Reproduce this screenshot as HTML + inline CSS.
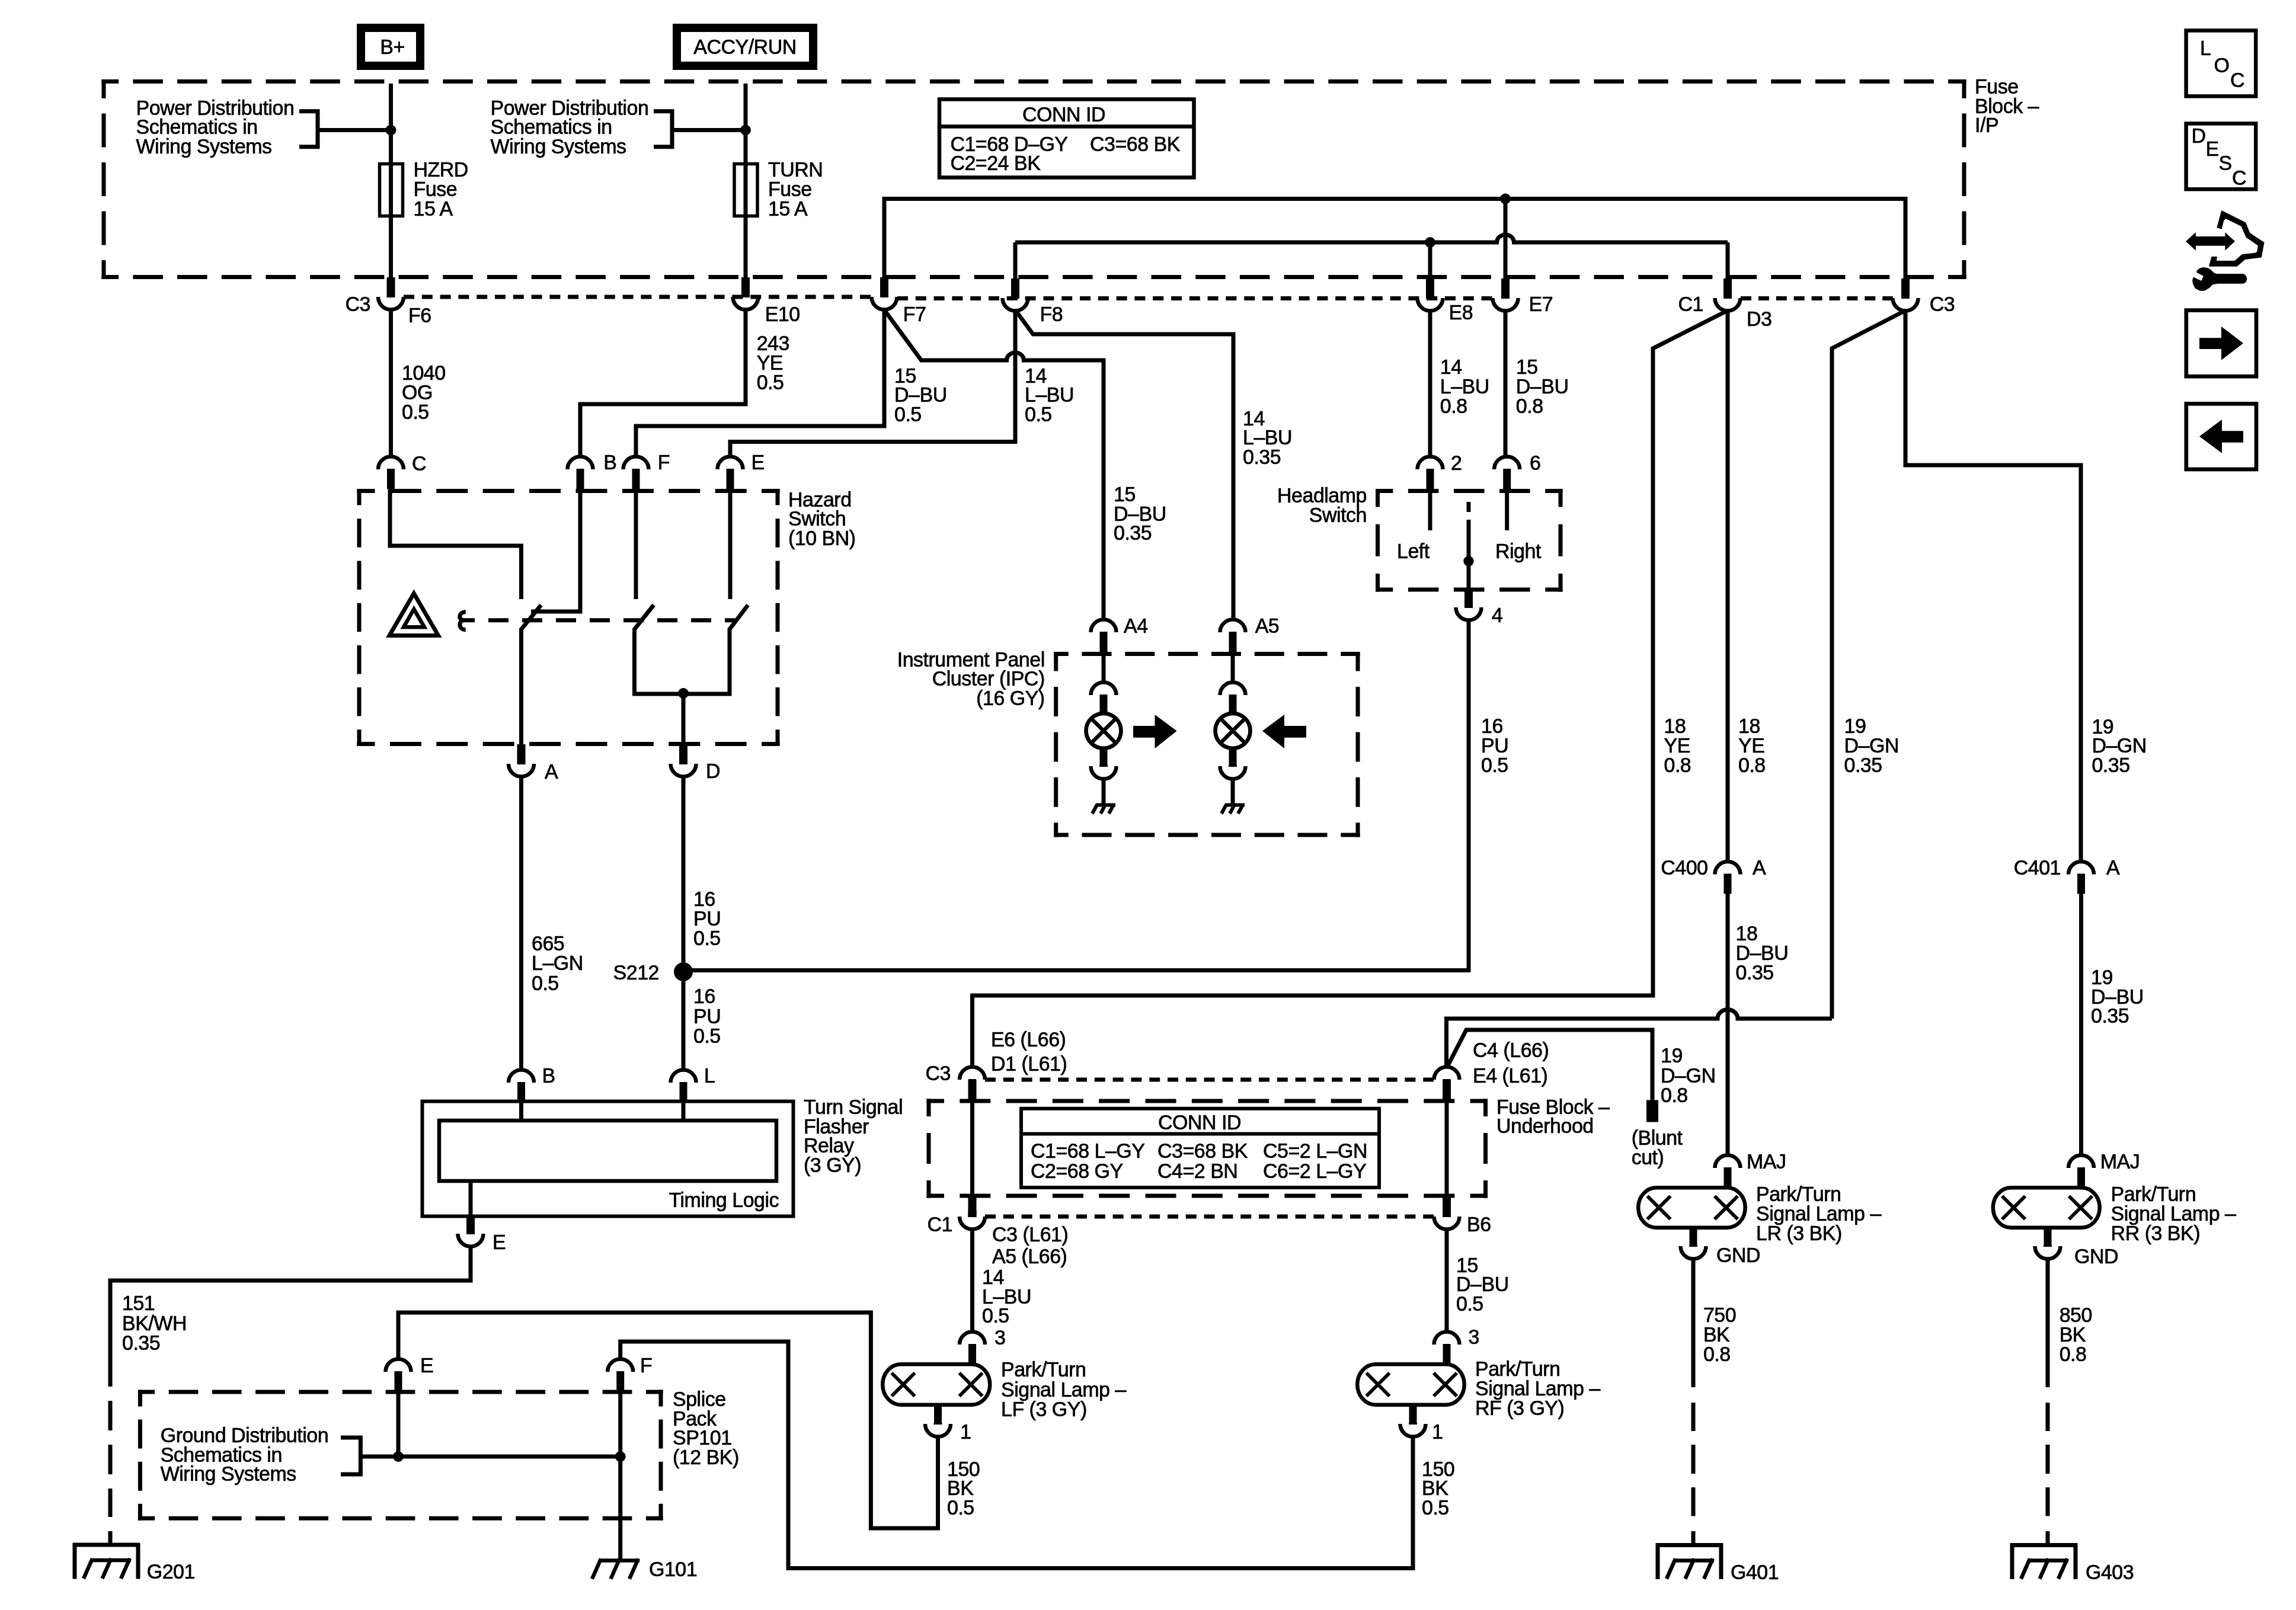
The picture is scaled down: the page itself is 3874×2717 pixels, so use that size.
<!DOCTYPE html>
<html><head><meta charset="utf-8"><style>
html,body{margin:0;padding:0;background:#fff;}
svg{display:block;will-change:transform;}
text{font-family:"Liberation Sans",sans-serif;font-size:34px;letter-spacing:-0.5px;fill:#000;stroke:#000;stroke-width:0.7px;}
</style></head><body>
<svg width="3874" height="2717" viewBox="0 0 3874 2717">
<rect width="3874" height="2717" fill="#fff"/>
<g stroke="#000" fill="none" stroke-linejoin="miter" stroke-miterlimit="10">
<rect x="609" y="47" width="100" height="64" stroke-width="14" fill="none"/>
<text transform="matrix(1 0 0 1.035 662 90.5)" text-anchor="middle">B+</text>
<rect x="1142" y="47" width="230" height="64" stroke-width="14" fill="none"/>
<text transform="matrix(1 0 0 1.035 1257 90.5)" text-anchor="middle">ACCY/RUN</text>
<path d="M175 137.4 L3314 137.4" stroke-width="7" stroke-linecap="square" stroke-dasharray="43.5 31.2" stroke-dashoffset="21.8"/>
<path d="M175 467.4 L3314 467.4" stroke-width="7" stroke-linecap="square" stroke-dasharray="43.5 31.2" stroke-dashoffset="21.8"/>
<path d="M175 137.4 L175 467.4" stroke-width="7" stroke-linecap="square" stroke-dasharray="50 32.5" stroke-dashoffset="25"/>
<path d="M3314 137.4 L3314 467.4" stroke-width="7" stroke-linecap="square" stroke-dasharray="50 32.5" stroke-dashoffset="25"/>
<text transform="matrix(1 0 0 1.035 3332 158)">Fuse</text>
<text transform="matrix(1 0 0 1.035 3332 190.5)">Block –</text>
<text transform="matrix(1 0 0 1.035 3332 223)">I/P</text>
<path d="M659.5 141 L659.5 470" stroke-width="7" fill="none"/>
<rect x="640.5" y="276.5" width="39" height="88" stroke-width="5.5" fill="none"/>
<circle cx="659.5" cy="219.5" r="9" fill="#000" stroke="none"/>
<path d="M505 187.8 L536 187.8 L536 247.8 L505 247.8" stroke-width="7" fill="none"/>
<path d="M536 219.5 L659.5 219.5" stroke-width="7" fill="none"/>
<text transform="matrix(1 0 0 1.035 229.5 194)">Power Distribution</text>
<text transform="matrix(1 0 0 1.035 229.5 226.3)">Schematics in</text>
<text transform="matrix(1 0 0 1.035 229.5 258.5)">Wiring Systems</text>
<text transform="matrix(1 0 0 1.035 697.5 298.3)">HZRD</text>
<text transform="matrix(1 0 0 1.035 697.5 331.1)">Fuse</text>
<text transform="matrix(1 0 0 1.035 697.5 363.9)">15 A</text>
<path d="M1258 141 L1258 470" stroke-width="7" fill="none"/>
<rect x="1239" y="276.5" width="39" height="88" stroke-width="5.5" fill="none"/>
<circle cx="1258" cy="219.5" r="9" fill="#000" stroke="none"/>
<path d="M1103 187.8 L1134 187.8 L1134 247.8 L1103 247.8" stroke-width="7" fill="none"/>
<path d="M1134 219.5 L1258 219.5" stroke-width="7" fill="none"/>
<text transform="matrix(1 0 0 1.035 827.5 194)">Power Distribution</text>
<text transform="matrix(1 0 0 1.035 827.5 226.3)">Schematics in</text>
<text transform="matrix(1 0 0 1.035 827.5 258.5)">Wiring Systems</text>
<text transform="matrix(1 0 0 1.035 1296 298.3)">TURN</text>
<text transform="matrix(1 0 0 1.035 1296 331.1)">Fuse</text>
<text transform="matrix(1 0 0 1.035 1296 363.9)">15 A</text>
<rect x="1585" y="167.5" width="429.5" height="132" stroke-width="6.5" fill="none"/>
<path d="M1585 213.5 L2014.5 213.5" stroke-width="6.5" fill="none"/>
<text transform="matrix(1 0 0 1.035 1795 205.2)" text-anchor="middle">CONN ID</text>
<text transform="matrix(1 0 0 1.035 1603.4 254.5)">C1=68 D–GY</text>
<text transform="matrix(1 0 0 1.035 1603.4 286.5)">C2=24 BK</text>
<text transform="matrix(1 0 0 1.035 1839 254.5)">C3=68 BK</text>
<path d="M1492 470 L1492 335.5 L3215 335.5 L3215 470" stroke-width="7" fill="none"/>
<circle cx="2540" cy="335.5" r="9" fill="#000" stroke="none"/>
<path d="M1713 409 L2525.5 409 A14.5 13.1 0 0 1 2554.5 409 L2915 409 M1713 470 L1713 409 M2915 409 L2915 470" stroke-width="7" fill="none" />
<circle cx="2413" cy="409" r="9" fill="#000" stroke="none"/>
<path d="M2413 409 L2413 470" stroke-width="7" fill="none"/>
<path d="M2540 335.5 L2540 470" stroke-width="7" fill="none"/>
<path d="M681 501 L1470 501" stroke-width="7" stroke-dasharray="18 12.8"/>
<path d="M1514 503.5 L2519 503.5" stroke-width="7" stroke-dasharray="18 12.8"/>
<path d="M2937 503.5 L3194 503.5" stroke-width="7" stroke-dasharray="18 11.9"/>
<rect x="652.5" y="468" width="14" height="34" stroke="none" fill="#000"/>
<path d="M638 501 A21.5 21.5 0 0 0 681 501" stroke-width="6.5" fill="none" />
<rect x="1251" y="468" width="14" height="34" stroke="none" fill="#000"/>
<path d="M1236.5 501 A21.5 21.5 0 0 0 1279.5 501" stroke-width="6.5" fill="none" />
<rect x="1485" y="468" width="14" height="34" stroke="none" fill="#000"/>
<path d="M1470.5 501 A21.5 21.5 0 0 0 1513.5 501" stroke-width="6.5" fill="none" />
<rect x="1706" y="470" width="14" height="34" stroke="none" fill="#000"/>
<path d="M1691.5 503 A21.5 21.5 0 0 0 1734.5 503" stroke-width="6.5" fill="none" />
<rect x="2406" y="470" width="14" height="34" stroke="none" fill="#000"/>
<path d="M2391.5 503 A21.5 21.5 0 0 0 2434.5 503" stroke-width="6.5" fill="none" />
<rect x="2533" y="470" width="14" height="34" stroke="none" fill="#000"/>
<path d="M2518.5 503 A21.5 21.5 0 0 0 2561.5 503" stroke-width="6.5" fill="none" />
<rect x="2908" y="470" width="14" height="34" stroke="none" fill="#000"/>
<path d="M2893.5 503 A21.5 21.5 0 0 0 2936.5 503" stroke-width="6.5" fill="none" />
<rect x="3208" y="470" width="14" height="34" stroke="none" fill="#000"/>
<path d="M3193.5 503 A21.5 21.5 0 0 0 3236.5 503" stroke-width="6.5" fill="none" />
<text transform="matrix(1 0 0 1.035 625 525.1)" text-anchor="end">C3</text>
<text transform="matrix(1 0 0 1.035 689 543.5)">F6</text>
<text transform="matrix(1 0 0 1.035 1290.7 541.9)">E10</text>
<text transform="matrix(1 0 0 1.035 1523.7 541.5)">F7</text>
<text transform="matrix(1 0 0 1.035 1754.5 541.5)">F8</text>
<text transform="matrix(1 0 0 1.035 2444.6 539.3)">E8</text>
<text transform="matrix(1 0 0 1.035 2579.6 525.3)">E7</text>
<text transform="matrix(1 0 0 1.035 2873.9 524.6)" text-anchor="end">C1</text>
<text transform="matrix(1 0 0 1.035 2947 550.2)">D3</text>
<text transform="matrix(1 0 0 1.035 3255.8 524.5)">C3</text>
<path d="M659.5 522 L659.5 771" stroke-width="7" fill="none"/>
<text transform="matrix(1 0 0 1.035 678 640.7)">1040</text>
<text transform="matrix(1 0 0 1.035 678 673.5)">OG</text>
<text transform="matrix(1 0 0 1.035 678 706.5)">0.5</text>
<path d="M1258 522 L1258 682 L979 682 L979 771" stroke-width="7" fill="none"/>
<text transform="matrix(1 0 0 1.035 1276.7 590.5)">243</text>
<text transform="matrix(1 0 0 1.035 1276.7 623.5)">YE</text>
<text transform="matrix(1 0 0 1.035 1276.7 656.5)">0.5</text>
<path d="M1492 522 L1492 719 L1073 719 L1073 771" stroke-width="7" fill="none"/>
<path d="M1492 523 L1554.5 608  L1698.5 608 A14.5 13.1 0 0 1 1727.5 608 L1862 608 L1862 1046" stroke-width="7" fill="none" />
<path d="M1713 522 L1713 745.5 L1232 745.5 L1232 771" stroke-width="7" fill="none"/>
<path d="M1713 523 L1743 564 L2081 564 L2081 1046" stroke-width="7" fill="none"/>
<text transform="matrix(1 0 0 1.035 1509 645.5)">15</text>
<text transform="matrix(1 0 0 1.035 1509 678.1)">D–BU</text>
<text transform="matrix(1 0 0 1.035 1509 710.5)">0.5</text>
<text transform="matrix(1 0 0 1.035 1729 645.5)">14</text>
<text transform="matrix(1 0 0 1.035 1729 678.1)">L–BU</text>
<text transform="matrix(1 0 0 1.035 1729 710.5)">0.5</text>
<text transform="matrix(1 0 0 1.035 2097 717.5)">14</text>
<text transform="matrix(1 0 0 1.035 2097 750)">L–BU</text>
<text transform="matrix(1 0 0 1.035 2097 782.5)">0.35</text>
<text transform="matrix(1 0 0 1.035 1879 845.5)">15</text>
<text transform="matrix(1 0 0 1.035 1879 878.5)">D–BU</text>
<text transform="matrix(1 0 0 1.035 1879 911.1)">0.35</text>
<path d="M2413 522 L2413 771" stroke-width="7" fill="none"/>
<text transform="matrix(1 0 0 1.035 2429.8 631)">14</text>
<text transform="matrix(1 0 0 1.035 2429.8 664)">L–BU</text>
<text transform="matrix(1 0 0 1.035 2429.8 696.5)">0.8</text>
<path d="M2540 522 L2540 771" stroke-width="7" fill="none"/>
<text transform="matrix(1 0 0 1.035 2557.8 631)">15</text>
<text transform="matrix(1 0 0 1.035 2557.8 664)">D–BU</text>
<text transform="matrix(1 0 0 1.035 2557.8 696.5)">0.8</text>
<path d="M2915 524 L2789 588 L2789 1680 L1640.5 1680 L1640.5 1801" stroke-width="7" fill="none"/>
<path d="M2915 522 L2915 1453" stroke-width="7" fill="none"/>
<path d="M3215 524 L3091 588 L3091 1719" stroke-width="7" fill="none"/>
<path d="M3091 1719 L2932 1719 A17 15.3 0 0 0 2898 1719 L2440.5 1719 L2440.5 1801" stroke-width="7" fill="none" />
<path d="M3215 522 L3215 785 L3511 785 L3511 1453" stroke-width="7" fill="none"/>
<text transform="matrix(1 0 0 1.035 2807.5 1237)">18</text>
<text transform="matrix(1 0 0 1.035 2807.5 1269.5)">YE</text>
<text transform="matrix(1 0 0 1.035 2807.5 1302.5)">0.8</text>
<text transform="matrix(1 0 0 1.035 2933 1237)">18</text>
<text transform="matrix(1 0 0 1.035 2933 1269.5)">YE</text>
<text transform="matrix(1 0 0 1.035 2933 1302.5)">0.8</text>
<text transform="matrix(1 0 0 1.035 3111.5 1237)">19</text>
<text transform="matrix(1 0 0 1.035 3111.5 1269.5)">D–GN</text>
<text transform="matrix(1 0 0 1.035 3111.5 1302.5)">0.35</text>
<text transform="matrix(1 0 0 1.035 3529.4 1238.1)">19</text>
<text transform="matrix(1 0 0 1.035 3529.4 1269.8)">D–GN</text>
<text transform="matrix(1 0 0 1.035 3529.4 1303.3)">0.35</text>
<rect x="653" y="791" width="13" height="34" stroke="none" fill="#000"/>
<path d="M638 792 A21.5 21.5 0 0 1 681 792" stroke-width="6.5" fill="none" />
<rect x="972.5" y="791" width="13" height="34" stroke="none" fill="#000"/>
<path d="M957.5 792 A21.5 21.5 0 0 1 1000.5 792" stroke-width="6.5" fill="none" />
<rect x="1066.5" y="791" width="13" height="34" stroke="none" fill="#000"/>
<path d="M1051.5 792 A21.5 21.5 0 0 1 1094.5 792" stroke-width="6.5" fill="none" />
<rect x="1225.5" y="791" width="13" height="34" stroke="none" fill="#000"/>
<path d="M1210.5 792 A21.5 21.5 0 0 1 1253.5 792" stroke-width="6.5" fill="none" />
<text transform="matrix(1 0 0 1.035 695 793.5)">C</text>
<text transform="matrix(1 0 0 1.035 1018.3 792)">B</text>
<text transform="matrix(1 0 0 1.035 1109.8 792)">F</text>
<text transform="matrix(1 0 0 1.035 1267.4 792)">E</text>
<path d="M606 828.4 L1312 828.4" stroke-width="7" stroke-linecap="square" stroke-dasharray="46 32.4" stroke-dashoffset="23"/>
<path d="M606 1255.4 L1312 1255.4" stroke-width="7" stroke-linecap="square" stroke-dasharray="46 32.4" stroke-dashoffset="23"/>
<path d="M606 828.4 L606 1255.4" stroke-width="7" stroke-linecap="square" stroke-dasharray="41.5 29.7" stroke-dashoffset="20.8"/>
<path d="M1312 828.4 L1312 1255.4" stroke-width="7" stroke-linecap="square" stroke-dasharray="41.5 29.7" stroke-dashoffset="20.8"/>
<text transform="matrix(1 0 0 1.035 1330 854.5)">Hazard</text>
<text transform="matrix(1 0 0 1.035 1330 887)">Switch</text>
<text transform="matrix(1 0 0 1.035 1330 919.5)">(10 BN)</text>
<path d="M658 824 L658 921 L879.5 921 L879.5 1011" stroke-width="7" fill="none"/>
<path d="M979 824 L979 1032 L896 1032" stroke-width="7" fill="none"/>
<path d="M1073 824 L1073 1011" stroke-width="7" fill="none"/>
<path d="M1232 824 L1232 1011" stroke-width="7" fill="none"/>
<path d="M913 1021 L879.5 1062 L879.5 1258" stroke-width="7" fill="none"/>
<path d="M1103 1021 L1070.5 1062 L1070.5 1171 L1231 1171 L1231 1062 L1262 1021" stroke-width="7" fill="none"/>
<circle cx="1153" cy="1170" r="9" fill="#000" stroke="none"/>
<path d="M1153 1170 L1153 1258" stroke-width="7" fill="none"/>
<path d="M800 1046.7 L1240 1046.7" stroke-width="7" fill="none" stroke-dasharray="34 23" stroke-dashoffset="-24"/>
<path d="M780.5 1046.7 L800 1046.7" stroke-width="7" fill="none"/>
<path d="M785.7 1032.8 C773 1032.8 773 1046.7 783 1046.7 C773 1046.7 773 1062.8 785.7 1062.8" stroke-width="7" fill="none" />
<path d="M698.3 1001.5 L657 1072.5 L739.5 1072.5Z" stroke-width="7" fill="none"/>
<path d="M698.4 1028 L681 1058.3 L716 1058.3Z" stroke-width="6.5" fill="none"/>
<rect x="872.5" y="1256" width="14" height="34" stroke="none" fill="#000"/>
<path d="M858 1289 A21.5 21.5 0 0 0 901 1289" stroke-width="6.5" fill="none" />
<rect x="1146" y="1256" width="14" height="34" stroke="none" fill="#000"/>
<path d="M1131.5 1289 A21.5 21.5 0 0 0 1174.5 1289" stroke-width="6.5" fill="none" />
<text transform="matrix(1 0 0 1.035 919 1313.5)">A</text>
<text transform="matrix(1 0 0 1.035 1191 1312.5)">D</text>
<path d="M879.5 1310 L879.5 1806" stroke-width="7" fill="none"/>
<text transform="matrix(1 0 0 1.035 897 1603.5)">665</text>
<text transform="matrix(1 0 0 1.035 897 1636.5)">L–GN</text>
<text transform="matrix(1 0 0 1.035 897 1670.5)">0.5</text>
<path d="M1153 1310 L1153 1806" stroke-width="7" fill="none"/>
<circle cx="1153" cy="1640" r="16" fill="#000" stroke="none"/>
<text transform="matrix(1 0 0 1.035 1112 1652.5)" text-anchor="end">S212</text>
<text transform="matrix(1 0 0 1.035 1170 1528.5)">16</text>
<text transform="matrix(1 0 0 1.035 1170 1561.5)">PU</text>
<text transform="matrix(1 0 0 1.035 1170 1594.5)">0.5</text>
<text transform="matrix(1 0 0 1.035 1170 1692.5)">16</text>
<text transform="matrix(1 0 0 1.035 1170 1726.5)">PU</text>
<text transform="matrix(1 0 0 1.035 1170 1759.5)">0.5</text>
<path d="M1153 1637.5 L2478 1637.5 L2478 1047" stroke-width="7" fill="none"/>
<rect x="873" y="1826" width="13" height="34" stroke="none" fill="#000"/>
<path d="M858 1827 A21.5 21.5 0 0 1 901 1827" stroke-width="6.5" fill="none" />
<rect x="1146.5" y="1826" width="13" height="34" stroke="none" fill="#000"/>
<path d="M1131.5 1827 A21.5 21.5 0 0 1 1174.5 1827" stroke-width="6.5" fill="none" />
<text transform="matrix(1 0 0 1.035 914.4 1827.1)">B</text>
<text transform="matrix(1 0 0 1.035 1188 1827.1)">L</text>
<rect x="712.5" y="1858.6" width="626" height="193.9" stroke-width="6" fill="none"/>
<rect x="741" y="1891" width="569" height="102" stroke-width="6.5" fill="none"/>
<path d="M879.5 1858 L879.5 1891" stroke-width="7" fill="none"/>
<path d="M1153 1858 L1153 1891" stroke-width="7" fill="none"/>
<text transform="matrix(1 0 0 1.035 1314 2036.5)" text-anchor="end">Timing Logic</text>
<path d="M794 1993 L794 2054" stroke-width="7" fill="none"/>
<rect x="787" y="2053" width="14" height="30" stroke="none" fill="#000"/>
<path d="M772.5 2082 A21.5 21.5 0 0 0 815.5 2082" stroke-width="6.5" fill="none" />
<text transform="matrix(1 0 0 1.035 831 2107.5)">E</text>
<path d="M794 2104 L794 2161 L186 2161 L186 2340" stroke-width="7" fill="none"/>
<text transform="matrix(1 0 0 1.035 1356 1879.5)">Turn Signal</text>
<text transform="matrix(1 0 0 1.035 1356 1912.5)">Flasher</text>
<text transform="matrix(1 0 0 1.035 1356 1944.5)">Relay</text>
<text transform="matrix(1 0 0 1.035 1356 1977.5)">(3 GY)</text>
<text transform="matrix(1 0 0 1.035 206 2211)">151</text>
<text transform="matrix(1 0 0 1.035 206 2244.5)">BK/WH</text>
<text transform="matrix(1 0 0 1.035 206 2278.1)">0.35</text>
<path d="M186 2364 L186 2414" stroke-width="7" fill="none"/>
<path d="M186 2438 L186 2488" stroke-width="7" fill="none"/>
<path d="M186 2512 L186 2560" stroke-width="7" fill="none"/>
<path d="M186 2584 L186 2610" stroke-width="7" fill="none"/>
<path d="M126 2664.5 L126 2607 L233 2607 L233 2664.5" stroke-width="7" fill="none"/>
<path d="M154 2633 L221 2633" stroke-width="6.5" fill="none"/>
<path d="M156 2630 L141 2664" stroke-width="6.5" fill="none" />
<path d="M187.5 2630 L172.5 2664" stroke-width="6.5" fill="none" />
<path d="M219 2630 L204 2664" stroke-width="6.5" fill="none" />
<text transform="matrix(1 0 0 1.035 247.7 2663.5)">G201</text>
<rect x="1634" y="1821" width="13" height="34" stroke="none" fill="#000"/>
<path d="M1619 1822 A21.5 21.5 0 0 1 1662 1822" stroke-width="6.5" fill="none" />
<rect x="2434.5" y="1821" width="13" height="34" stroke="none" fill="#000"/>
<path d="M2419.5 1822 A21.5 21.5 0 0 1 2462.5 1822" stroke-width="6.5" fill="none" />
<path d="M1662 1822 L2419 1822" stroke-width="7" stroke-dasharray="18 12.8"/>
<rect x="1633.5" y="1822" width="14" height="33" stroke="none" fill="#000"/>
<path d="M1640.5 1855 L1640.5 2020" stroke-width="7" fill="none"/>
<rect x="1633.5" y="2016" width="14" height="38" stroke="none" fill="#000"/>
<rect x="1633.5" y="2043" width="14" height="11" stroke="none" fill="#000"/>
<path d="M1619 2053 A21.5 21.5 0 0 0 1662 2053" stroke-width="6.5" fill="none" />
<rect x="2434" y="1822" width="14" height="33" stroke="none" fill="#000"/>
<path d="M2441 1855 L2441 2020" stroke-width="7" fill="none"/>
<rect x="2434" y="2016" width="14" height="38" stroke="none" fill="#000"/>
<rect x="2434" y="2043" width="14" height="11" stroke="none" fill="#000"/>
<path d="M2419.5 2053 A21.5 21.5 0 0 0 2462.5 2053" stroke-width="6.5" fill="none" />
<path d="M1662 2053 L2419 2053" stroke-width="7" stroke-dasharray="18 12.8"/>
<path d="M1567 1858 L2506.5 1858" stroke-width="7" stroke-linecap="square" stroke-dasharray="45 33.3" stroke-dashoffset="22.5"/>
<path d="M1567 2018 L2506.5 2018" stroke-width="7" stroke-linecap="square" stroke-dasharray="45 33.3" stroke-dashoffset="22.5"/>
<path d="M1567 1858 L1567 2018" stroke-width="7" stroke-linecap="square" stroke-dasharray="45 35" stroke-dashoffset="22.5"/>
<path d="M2506.5 1858 L2506.5 2018" stroke-width="7" stroke-linecap="square" stroke-dasharray="45 35" stroke-dashoffset="22.5"/>
<rect x="1723" y="1870.8" width="604" height="133.2" stroke-width="6" fill="none"/>
<path d="M1723 1913.5 L2327 1913.5" stroke-width="6" fill="none"/>
<text transform="matrix(1 0 0 1.035 2024 1905.5)" text-anchor="middle">CONN ID</text>
<text transform="matrix(1 0 0 1.035 1739 1953.5)">C1=68 L–GY</text>
<text transform="matrix(1 0 0 1.035 1739 1988)">C2=68 GY</text>
<text transform="matrix(1 0 0 1.035 1953 1953.5)">C3=68 BK</text>
<text transform="matrix(1 0 0 1.035 1953 1988)">C4=2 BN</text>
<text transform="matrix(1 0 0 1.035 2131 1953.5)">C5=2 L–GN</text>
<text transform="matrix(1 0 0 1.035 2131 1988)">C6=2 L–GY</text>
<text transform="matrix(1 0 0 1.035 2525 1879.5)">Fuse Block –</text>
<text transform="matrix(1 0 0 1.035 2525 1911.5)">Underhood</text>
<text transform="matrix(1 0 0 1.035 1604 1822.5)" text-anchor="end">C3</text>
<text transform="matrix(1 0 0 1.035 1672 1765.5)">E6 (L66)</text>
<text transform="matrix(1 0 0 1.035 1672 1806.5)">D1 (L61)</text>
<text transform="matrix(1 0 0 1.035 2485 1783.5)">C4 (L66)</text>
<text transform="matrix(1 0 0 1.035 2485 1826.5)">E4 (L61)</text>
<text transform="matrix(1 0 0 1.035 1607 2077.5)" text-anchor="end">C1</text>
<text transform="matrix(1 0 0 1.035 1674 2094.5)">C3 (L61)</text>
<text transform="matrix(1 0 0 1.035 1674 2131.5)">A5 (L66)</text>
<text transform="matrix(1 0 0 1.035 2475 2077.5)">B6</text>
<path d="M2441 1802 L2474 1738 L2788 1738 L2788 1858" stroke-width="7" fill="none"/>
<rect x="2778" y="1856.5" width="20" height="37" stroke="none" fill="#000"/>
<text transform="matrix(1 0 0 1.035 2802 1792.5)">19</text>
<text transform="matrix(1 0 0 1.035 2802 1827.2)">D–GN</text>
<text transform="matrix(1 0 0 1.035 2802 1859.5)">0.8</text>
<text transform="matrix(1 0 0 1.035 2752.7 1932)">(Blunt</text>
<text transform="matrix(1 0 0 1.035 2752.7 1965.2)">cut)</text>
<path d="M1640.5 2075 L1640.5 2246" stroke-width="7" fill="none"/>
<text transform="matrix(1 0 0 1.035 1657 2166.5)">14</text>
<text transform="matrix(1 0 0 1.035 1657 2199.5)">L–BU</text>
<text transform="matrix(1 0 0 1.035 1657 2231.5)">0.5</text>
<rect x="1634" y="2268" width="13" height="34" stroke="none" fill="#000"/>
<path d="M1619 2269 A21.5 21.5 0 0 1 1662 2269" stroke-width="6.5" fill="none" />
<text transform="matrix(1 0 0 1.035 1678 2268.5)">3</text>
<rect x="1489.2" y="2302.2" width="181.1" height="68.5" rx="30.8" ry="34.2" stroke-width="6.5" fill="none"/>
<path d="M1504.5 2317 L1543.5 2356 M1543.5 2317 L1504.5 2356" stroke-width="6" fill="none" />
<path d="M1618.6 2317 L1657.6 2356 M1657.6 2317 L1618.6 2356" stroke-width="6" fill="none" />
<rect x="1576" y="2372" width="13" height="32" stroke="none" fill="#000"/>
<rect x="1575.5" y="2401" width="14" height="3" stroke="none" fill="#000"/>
<path d="M1561 2403 A21.5 21.5 0 0 0 1604 2403" stroke-width="6.5" fill="none" />
<text transform="matrix(1 0 0 1.035 1620 2428.1)">1</text>
<text transform="matrix(1 0 0 1.035 1689 2323.1)">Park/Turn</text>
<text transform="matrix(1 0 0 1.035 1689 2356.5)">Signal Lamp –</text>
<text transform="matrix(1 0 0 1.035 1689 2389.5)">LF (3 GY)</text>
<path d="M1582.5 2425 L1582.5 2579 L1469.4 2579 L1469.4 2215 L672 2215 L672 2293" stroke-width="7" fill="none"/>
<text transform="matrix(1 0 0 1.035 1598 2490.5)">150</text>
<text transform="matrix(1 0 0 1.035 1598 2522.5)">BK</text>
<text transform="matrix(1 0 0 1.035 1598 2555.5)">0.5</text>
<path d="M2441 2075 L2441 2246" stroke-width="7" fill="none"/>
<text transform="matrix(1 0 0 1.035 2457 2146.5)">15</text>
<text transform="matrix(1 0 0 1.035 2457 2179)">D–BU</text>
<text transform="matrix(1 0 0 1.035 2457 2211.5)">0.5</text>
<rect x="2434.5" y="2268" width="13" height="34" stroke="none" fill="#000"/>
<path d="M2419.5 2269 A21.5 21.5 0 0 1 2462.5 2269" stroke-width="6.5" fill="none" />
<text transform="matrix(1 0 0 1.035 2477.5 2268)">3</text>
<rect x="2290.2" y="2302.2" width="180.5" height="68.5" rx="30.8" ry="34.2" stroke-width="6.5" fill="none"/>
<path d="M2305.5 2317 L2344.5 2356 M2344.5 2317 L2305.5 2356" stroke-width="6" fill="none" />
<path d="M2419 2317 L2458 2356 M2458 2317 L2419 2356" stroke-width="6" fill="none" />
<rect x="2377.5" y="2372" width="13" height="32" stroke="none" fill="#000"/>
<rect x="2377" y="2401" width="14" height="3" stroke="none" fill="#000"/>
<path d="M2362.5 2403 A21.5 21.5 0 0 0 2405.5 2403" stroke-width="6.5" fill="none" />
<text transform="matrix(1 0 0 1.035 2416 2428.1)">1</text>
<text transform="matrix(1 0 0 1.035 2489 2322.2)">Park/Turn</text>
<text transform="matrix(1 0 0 1.035 2489 2354.5)">Signal Lamp –</text>
<text transform="matrix(1 0 0 1.035 2489 2387.5)">RF (3 GY)</text>
<path d="M2384 2425 L2384 2646.5 L1330 2646.5 L1330 2264 L1046.7 2264 L1046.7 2293" stroke-width="7" fill="none"/>
<text transform="matrix(1 0 0 1.035 2399 2490.5)">150</text>
<text transform="matrix(1 0 0 1.035 2399 2522.5)">BK</text>
<text transform="matrix(1 0 0 1.035 2399 2555.5)">0.5</text>
<rect x="665.5" y="2314" width="13" height="34" stroke="none" fill="#000"/>
<path d="M650.5 2315 A21.5 21.5 0 0 1 693.5 2315" stroke-width="6.5" fill="none" />
<rect x="1040.2" y="2314" width="13" height="34" stroke="none" fill="#000"/>
<path d="M1025.2 2315 A21.5 21.5 0 0 1 1068.2 2315" stroke-width="6.5" fill="none" />
<text transform="matrix(1 0 0 1.035 709 2315.5)">E</text>
<text transform="matrix(1 0 0 1.035 1080 2315.5)">F</text>
<path d="M236.4 2349 L1115 2349" stroke-width="7" stroke-linecap="square" stroke-dasharray="42.7 30.5" stroke-dashoffset="21.4"/>
<path d="M236.4 2562.3 L1115 2562.3" stroke-width="7" stroke-linecap="square" stroke-dasharray="42.7 30.5" stroke-dashoffset="21.4"/>
<path d="M236.4 2349 L236.4 2562.3" stroke-width="7" stroke-linecap="square" stroke-dasharray="42 29.1" stroke-dashoffset="21"/>
<path d="M1115 2349 L1115 2562.3" stroke-width="7" stroke-linecap="square" stroke-dasharray="42 29.1" stroke-dashoffset="21"/>
<path d="M672 2345 L672 2458" stroke-width="7" fill="none"/>
<path d="M1046.7 2345 L1046.7 2636" stroke-width="7" fill="none"/>
<path d="M608.4 2458 L1046.7 2458" stroke-width="7" fill="none"/>
<circle cx="672" cy="2458" r="9" fill="#000" stroke="none"/>
<circle cx="1046.7" cy="2458" r="9" fill="#000" stroke="none"/>
<path d="M575 2426 L608.4 2426 L608.4 2488 L575 2488" stroke-width="7" fill="none"/>
<text transform="matrix(1 0 0 1.035 270.7 2433.5)">Ground Distribution</text>
<text transform="matrix(1 0 0 1.035 270.7 2466.5)">Schematics in</text>
<text transform="matrix(1 0 0 1.035 270.7 2498.5)">Wiring Systems</text>
<text transform="matrix(1 0 0 1.035 1135 2372.5)">Splice</text>
<text transform="matrix(1 0 0 1.035 1135 2405.5)">Pack</text>
<text transform="matrix(1 0 0 1.035 1135 2438)">SP101</text>
<text transform="matrix(1 0 0 1.035 1135 2470.5)">(12 BK)</text>
<path d="M1012 2633.5 L1079 2633.5" stroke-width="6.5" fill="none"/>
<path d="M1014 2630.5 L999 2664.5" stroke-width="6.5" fill="none" />
<path d="M1045.5 2630.5 L1030.5 2664.5" stroke-width="6.5" fill="none" />
<path d="M1077 2630.5 L1062 2664.5" stroke-width="6.5" fill="none" />
<text transform="matrix(1 0 0 1.035 1095 2660.1)">G101</text>
<rect x="1855.5" y="1066" width="13" height="34" stroke="none" fill="#000"/>
<path d="M1840.5 1067 A21.5 21.5 0 0 1 1883.5 1067" stroke-width="6.5" fill="none" />
<rect x="2073.5" y="1066" width="13" height="34" stroke="none" fill="#000"/>
<path d="M2058.5 1067 A21.5 21.5 0 0 1 2101.5 1067" stroke-width="6.5" fill="none" />
<text transform="matrix(1 0 0 1.035 1896 1067.5)">A4</text>
<text transform="matrix(1 0 0 1.035 2117.7 1067.5)">A5</text>
<path d="M1781.7 1103.6 L2291 1103.6" stroke-width="7" stroke-linecap="square" stroke-dasharray="43 29.8" stroke-dashoffset="25.5"/>
<path d="M1781.7 1409 L2291 1409" stroke-width="7" stroke-linecap="square" stroke-dasharray="43 29.8" stroke-dashoffset="25.5"/>
<path d="M1781.7 1103.6 L1781.7 1409" stroke-width="7" stroke-linecap="square" stroke-dasharray="43 33.4" stroke-dashoffset="17.5"/>
<path d="M2291 1103.6 L2291 1409" stroke-width="7" stroke-linecap="square" stroke-dasharray="43 33.4" stroke-dashoffset="17.5"/>
<text transform="matrix(1 0 0 1.035 1762.7 1124.5)" text-anchor="end">Instrument Panel</text>
<text transform="matrix(1 0 0 1.035 1762.7 1157.2)" text-anchor="end">Cluster (IPC)</text>
<text transform="matrix(1 0 0 1.035 1762.7 1189.5)" text-anchor="end">(16 GY)</text>
<path d="M1862 1100 L1862 1151" stroke-width="7" fill="none"/>
<rect x="1855.5" y="1172" width="13" height="30" stroke="none" fill="#000"/>
<path d="M1840.5 1173 A21.5 21.5 0 0 1 1883.5 1173" stroke-width="6.5" fill="none" />
<circle cx="1862" cy="1233.3" r="29.5" stroke-width="6.7" fill="none"/>
<path d="M1842.5 1213.8 L1881.5 1252.8 M1881.5 1213.8 L1842.5 1252.8" stroke-width="6.5" fill="none" />
<rect x="1855.5" y="1263" width="13" height="31" stroke="none" fill="#000"/>
<rect x="1855" y="1291" width="14" height="3" stroke="none" fill="#000"/>
<path d="M1840.5 1293 A21.5 21.5 0 0 0 1883.5 1293" stroke-width="6.5" fill="none" />
<path d="M1862 1315 L1862 1358" stroke-width="7" fill="none"/>
<path d="M1849 1358.5 L1882 1358.5" stroke-width="6" fill="none" />
<path d="M1851 1358 L1843 1373" stroke-width="6" fill="none" />
<path d="M1865 1358 L1857 1373" stroke-width="6" fill="none" />
<path d="M1879 1358 L1871 1373" stroke-width="6" fill="none" />
<path d="M2080 1100 L2080 1151" stroke-width="7" fill="none"/>
<rect x="2073.5" y="1172" width="13" height="30" stroke="none" fill="#000"/>
<path d="M2058.5 1173 A21.5 21.5 0 0 1 2101.5 1173" stroke-width="6.5" fill="none" />
<circle cx="2080" cy="1233.3" r="29.5" stroke-width="6.7" fill="none"/>
<path d="M2060.5 1213.8 L2099.5 1252.8 M2099.5 1213.8 L2060.5 1252.8" stroke-width="6.5" fill="none" />
<rect x="2073.5" y="1263" width="13" height="31" stroke="none" fill="#000"/>
<rect x="2073" y="1291" width="14" height="3" stroke="none" fill="#000"/>
<path d="M2058.5 1293 A21.5 21.5 0 0 0 2101.5 1293" stroke-width="6.5" fill="none" />
<path d="M2080 1315 L2080 1358" stroke-width="7" fill="none"/>
<path d="M2067 1358.5 L2100 1358.5" stroke-width="6" fill="none" />
<path d="M2069 1358 L2061 1373" stroke-width="6" fill="none" />
<path d="M2083 1358 L2075 1373" stroke-width="6" fill="none" />
<path d="M2097 1358 L2089 1373" stroke-width="6" fill="none" />
<path d="M1912 1225 L1948.5 1225 L1948.5 1206 L1985.6 1233.5 L1948.5 1263 L1948.5 1244.8 L1912 1244.8Z" stroke-width="0" fill="#000" />
<path d="M2204 1225 L2167 1225 L2167 1206 L2130 1233.5 L2167 1263 L2167 1244.8 L2204 1244.8Z" stroke-width="0" fill="#000" />
<rect x="2406.5" y="791" width="13" height="34" stroke="none" fill="#000"/>
<path d="M2391.5 792 A21.5 21.5 0 0 1 2434.5 792" stroke-width="6.5" fill="none" />
<rect x="2536.2" y="791" width="13" height="34" stroke="none" fill="#000"/>
<path d="M2521.2 792 A21.5 21.5 0 0 1 2564.2 792" stroke-width="6.5" fill="none" />
<text transform="matrix(1 0 0 1.035 2448 792.5)">2</text>
<text transform="matrix(1 0 0 1.035 2581 792.5)">6</text>
<path d="M2324.5 828.4 L2633 828.4" stroke-width="7" stroke-linecap="square" stroke-dasharray="44.5 32.6" stroke-dashoffset="22.2"/>
<path d="M2324.5 995 L2633 995" stroke-width="7" stroke-linecap="square" stroke-dasharray="44.5 32.6" stroke-dashoffset="22.2"/>
<path d="M2324.5 828.4 L2324.5 995" stroke-width="7" stroke-linecap="square" stroke-dasharray="47 36.3" stroke-dashoffset="23.5"/>
<path d="M2633 828.4 L2633 995" stroke-width="7" stroke-linecap="square" stroke-dasharray="47 36.3" stroke-dashoffset="23.5"/>
<text transform="matrix(1 0 0 1.035 2306 848)" text-anchor="end">Headlamp</text>
<text transform="matrix(1 0 0 1.035 2306 880.5)" text-anchor="end">Switch</text>
<path d="M2413 825 L2413 895" stroke-width="7" fill="none"/>
<path d="M2542.7 825 L2542.7 895" stroke-width="7" fill="none"/>
<text transform="matrix(1 0 0 1.035 2357 941.5)">Left</text>
<text transform="matrix(1 0 0 1.035 2523 941.5)">Right</text>
<path d="M2478 847 L2478 864" stroke-width="7" fill="none"/>
<path d="M2478 877 L2478 998" stroke-width="7" fill="none"/>
<circle cx="2478" cy="947" r="8.7" fill="#000" stroke="none"/>
<rect x="2471" y="995" width="14" height="31" stroke="none" fill="#000"/>
<path d="M2456.5 1025 A21.5 21.5 0 0 0 2499.5 1025" stroke-width="6.5" fill="none" />
<text transform="matrix(1 0 0 1.035 2517 1049.5)">4</text>
<text transform="matrix(1 0 0 1.035 2499 1237)">16</text>
<text transform="matrix(1 0 0 1.035 2499 1269.5)">PU</text>
<text transform="matrix(1 0 0 1.035 2499 1302.5)">0.5</text>
<rect x="2908.5" y="1474.4" width="13" height="34" stroke="none" fill="#000"/>
<path d="M2893.5 1475.4 A21.5 21.5 0 0 1 2936.5 1475.4" stroke-width="6.5" fill="none" />
<text transform="matrix(1 0 0 1.035 2881.5 1475.5)" text-anchor="end">C400</text>
<text transform="matrix(1 0 0 1.035 2957 1475.5)">A</text>
<path d="M2915 1505 L2915 1950" stroke-width="7" fill="none"/>
<text transform="matrix(1 0 0 1.035 2928.6 1586.5)">18</text>
<text transform="matrix(1 0 0 1.035 2928.6 1620.1)">D–BU</text>
<text transform="matrix(1 0 0 1.035 2928.6 1653.3)">0.35</text>
<rect x="2908.5" y="1970" width="13" height="34" stroke="none" fill="#000"/>
<path d="M2893.5 1971 A21.5 21.5 0 0 1 2936.5 1971" stroke-width="6.5" fill="none" />
<text transform="matrix(1 0 0 1.035 2947 1971.5)">MAJ</text>
<rect x="2764.2" y="2004.2" width="180.5" height="67.5" rx="30.4" ry="33.8" stroke-width="6.5" fill="none"/>
<path d="M2779.5 2018.5 L2818.5 2057.5 M2818.5 2018.5 L2779.5 2057.5" stroke-width="6" fill="none" />
<path d="M2893 2018.5 L2932 2057.5 M2932 2018.5 L2893 2057.5" stroke-width="6" fill="none" />
<rect x="2850.5" y="2073" width="13" height="31" stroke="none" fill="#000"/>
<rect x="2850" y="2101" width="14" height="3" stroke="none" fill="#000"/>
<path d="M2835.5 2103 A21.5 21.5 0 0 0 2878.5 2103" stroke-width="6.5" fill="none" />
<text transform="matrix(1 0 0 1.035 2896 2129.5)">GND</text>
<text transform="matrix(1 0 0 1.035 2963 2026.5)">Park/Turn</text>
<text transform="matrix(1 0 0 1.035 2963 2059.5)">Signal Lamp –</text>
<text transform="matrix(1 0 0 1.035 2963 2093.1)">LR (3 BK)</text>
<text transform="matrix(1 0 0 1.035 2873.9 2230.5)">750</text>
<text transform="matrix(1 0 0 1.035 2873.9 2263.5)">BK</text>
<text transform="matrix(1 0 0 1.035 2873.9 2297.2)">0.8</text>
<rect x="3505" y="1474.4" width="13" height="34" stroke="none" fill="#000"/>
<path d="M3490 1475.4 A21.5 21.5 0 0 1 3533 1475.4" stroke-width="6.5" fill="none" />
<text transform="matrix(1 0 0 1.035 3477 1475.5)" text-anchor="end">C401</text>
<text transform="matrix(1 0 0 1.035 3554 1475.5)">A</text>
<path d="M3511.5 1505 L3511.5 1950" stroke-width="7" fill="none"/>
<text transform="matrix(1 0 0 1.035 3528 1661)">19</text>
<text transform="matrix(1 0 0 1.035 3528 1694.2)">D–BU</text>
<text transform="matrix(1 0 0 1.035 3528 1725.9)">0.35</text>
<rect x="3505" y="1970" width="13" height="34" stroke="none" fill="#000"/>
<path d="M3490 1971 A21.5 21.5 0 0 1 3533 1971" stroke-width="6.5" fill="none" />
<text transform="matrix(1 0 0 1.035 3543.7 1971.5)">MAJ</text>
<rect x="3362.8" y="2004.2" width="179.9" height="67.5" rx="30.4" ry="33.8" stroke-width="6.5" fill="none"/>
<path d="M3378.1 2018.5 L3417.1 2057.5 M3417.1 2018.5 L3378.1 2057.5" stroke-width="6" fill="none" />
<path d="M3491 2018.5 L3530 2057.5 M3530 2018.5 L3491 2057.5" stroke-width="6" fill="none" />
<rect x="3448.5" y="2073" width="13" height="31" stroke="none" fill="#000"/>
<rect x="3448" y="2101" width="14" height="3" stroke="none" fill="#000"/>
<path d="M3433.5 2103 A21.5 21.5 0 0 0 3476.5 2103" stroke-width="6.5" fill="none" />
<text transform="matrix(1 0 0 1.035 3500 2132)">GND</text>
<text transform="matrix(1 0 0 1.035 3561.6 2026.5)">Park/Turn</text>
<text transform="matrix(1 0 0 1.035 3561.6 2059.5)">Signal Lamp –</text>
<text transform="matrix(1 0 0 1.035 3561.6 2093.1)">RR (3 BK)</text>
<text transform="matrix(1 0 0 1.035 3474.7 2230.5)">850</text>
<text transform="matrix(1 0 0 1.035 3474.7 2263.5)">BK</text>
<text transform="matrix(1 0 0 1.035 3474.7 2297.2)">0.8</text>
<path d="M2857 2125 L2857 2341" stroke-width="7" fill="none"/>
<path d="M2857 2367 L2857 2415" stroke-width="7" fill="none"/>
<path d="M2857 2438 L2857 2487" stroke-width="7" fill="none"/>
<path d="M2857 2510 L2857 2558.5" stroke-width="7" fill="none"/>
<path d="M2857 2584 L2857 2610" stroke-width="7" fill="none"/>
<path d="M2797 2664.9 L2797 2607.4 L2904 2607.4 L2904 2664.9" stroke-width="7" fill="none"/>
<path d="M2825 2633.4 L2892 2633.4" stroke-width="6.5" fill="none"/>
<path d="M2827 2630.4 L2812 2664.4" stroke-width="6.5" fill="none" />
<path d="M2858.5 2630.4 L2843.5 2664.4" stroke-width="6.5" fill="none" />
<path d="M2890 2630.4 L2875 2664.4" stroke-width="6.5" fill="none" />
<text transform="matrix(1 0 0 1.035 2920 2664.5)">G401</text>
<path d="M3455 2125 L3455 2341" stroke-width="7" fill="none"/>
<path d="M3455 2367 L3455 2415" stroke-width="7" fill="none"/>
<path d="M3455 2438 L3455 2487" stroke-width="7" fill="none"/>
<path d="M3455 2510 L3455 2558.5" stroke-width="7" fill="none"/>
<path d="M3455 2584 L3455 2610" stroke-width="7" fill="none"/>
<path d="M3395 2664.9 L3395 2607.4 L3502 2607.4 L3502 2664.9" stroke-width="7" fill="none"/>
<path d="M3423 2633.4 L3490 2633.4" stroke-width="6.5" fill="none"/>
<path d="M3425 2630.4 L3410 2664.4" stroke-width="6.5" fill="none" />
<path d="M3456.5 2630.4 L3441.5 2664.4" stroke-width="6.5" fill="none" />
<path d="M3488 2630.4 L3473 2664.4" stroke-width="6.5" fill="none" />
<text transform="matrix(1 0 0 1.035 3519 2664.5)">G403</text>
<rect x="3688.6" y="51.5" width="117.6" height="110.9" stroke-width="6.5" fill="none"/>
<text transform="matrix(1 0 0 1.035 3712 93.1)">L</text>
<text transform="matrix(1 0 0 1.035 3735.5 122)">O</text>
<text transform="matrix(1 0 0 1.035 3763 146.5)">C</text>
<rect x="3688.6" y="208.5" width="117.6" height="110.8" stroke-width="6.5" fill="none"/>
<text transform="matrix(1 0 0 1.035 3697.5 241.3)">D</text>
<text transform="matrix(1 0 0 1.035 3721.5 262.5)">E</text>
<text transform="matrix(1 0 0 1.035 3743.5 286.5)">S</text>
<text transform="matrix(1 0 0 1.035 3766 311.5)">C</text>
<rect x="3688.8" y="523.6" width="118.2" height="111.6" stroke-width="6.7" fill="none"/>
<path d="M3711 570.3 L3748 570.3 L3748 551 L3785 579.3 L3748 607.8 L3748 589 L3711 589Z" stroke-width="0" fill="#000" />
<rect x="3688.8" y="681.4" width="118.2" height="110.6" stroke-width="6.7" fill="none"/>
<path d="M3711 736.4 L3749 708 L3749 727.2 L3785 727.2 L3785 746.8 L3749 746.8 L3749 764.7Z" stroke-width="0" fill="#000" />
<path d="M3688 407.3 L3704.9 392 L3704.9 399 L3754.4 399 L3754.4 392 L3771 407.3 L3754.4 422.7 L3754.4 414.7 L3704.9 414.7 L3704.9 422.7Z" stroke-width="0" fill="#000" />
<path d="M3740.3 384.3 3748.3 355.1 3789.2 375.4 3796.3 393.1 3820.5 409.1 3815.8 434.5 3788.1 438 3774.5 449.8 3727 449.8 3731.4 433 3740.9 433 3739.9 440 3770.6 440 3782.8 429.2 3804.6 426.8 3808.1 425 3809.9 414.4 3789.8 400.8 3781.6 381.9 3755.4 369 3752.1 372.5 3748.8 386.7Z" stroke-width="0" fill="#000" />
<path d="M3706 459.8 3707.2 456.1 3711.9 452.5 3717.8 451 3725.5 452.2 3730.8 455.7 3736.1 460.8 3740.3 462 3785.1 462 3789.2 464.6 3791.6 470.5 3789.2 476.4 3785.1 478.7 3741.4 478.7 3733.2 480.5 3727.9 485.8 3719.6 490.8 3711.9 490.8 3703.7 486.4 3700.1 479.3 3699 473.1 3700.7 468.1 3701.9 467.9 3714.3 474 3717.8 465.7Z" stroke-width="0" fill="#000" />
</g>
</svg>
</body></html>
